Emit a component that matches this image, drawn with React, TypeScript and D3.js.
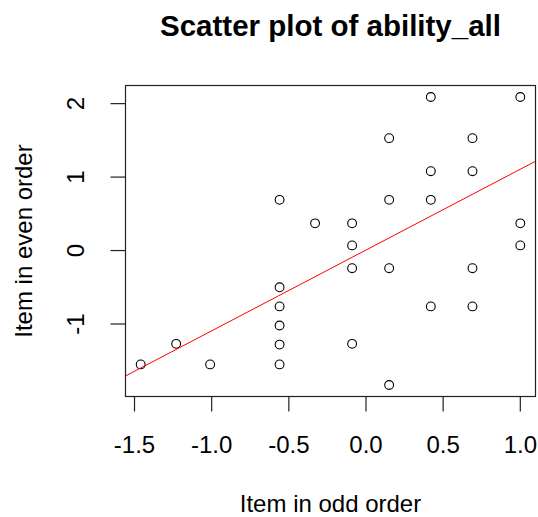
import React from 'react';
import * as d3 from 'd3';

// odd-order item score (x) and even-order item score (y)
const oddOrder = [
  -1.46, -1.23, -1.01,
  -0.56, -0.56, -0.56, -0.56, -0.56, -0.56,
  -0.33,
  -0.09, -0.09, -0.09, -0.09,
  0.15, 0.15, 0.15, 0.15,
  0.42, 0.42, 0.42, 0.42,
  0.69, 0.69, 0.69, 0.69,
  1.0, 1.0, 1.0,
];
const evenOrder = [
  -1.55, -1.27, -1.55,
  0.69, -0.5, -0.76, -1.02, -1.28, -1.55,
  0.37,
  0.37, 0.07, -0.24, -1.27,
  1.53, 0.69, -0.24, -1.83,
  2.09, 1.08, 0.69, -0.76,
  1.53, 1.08, -0.24, -0.76,
  2.09, 0.37, 0.07,
];
const xTicks = [-1.5, -1.0, -0.5, 0.0, 0.5, 1.0];
const yTicks = [-1, 0, 1, 2];
// fitted line (abline)
const fitIntercept = 0.007;
const fitSlope = 1.1;

const W = 538;
const H = 517;
const box = { left: 125.5, right: 535.5, top: 85.5, bottom: 396.5 };
const font = '"Liberation Sans", Arial, sans-serif';

// R-style 4% axis padding
const pad = (ext: [number, number]) => {
  const d = (ext[1] - ext[0]) * 0.04;
  return [ext[0] - d, ext[1] + d];
};

export default function App() {
  const xDom = pad(d3.extent(oddOrder) as [number, number]);
  const yDom = pad(d3.extent(evenOrder) as [number, number]);
  const x = d3.scaleLinear().domain(xDom).range([box.left, box.right]);
  const y = d3.scaleLinear().domain(yDom).range([box.bottom, box.top]);
  const pts = oddOrder.map((v, i) => [v, evenOrder[i]]);

  const line = d3.line<number>()
    .x((v) => x(v))
    .y((v) => y(fitIntercept + fitSlope * v));

  const cx = (box.left + box.right) / 2;
  const cy = (box.top + box.bottom) / 2;

  return (
    <svg width={W} height={H} style={{ position: 'absolute', left: 0, top: 0, background: '#fff' }}>
      <defs>
        <clipPath id="plotArea">
          <rect x={box.left} y={box.top} width={box.right - box.left} height={box.bottom - box.top} />
        </clipPath>
      </defs>
      <text x={cx} y={36} textAnchor="middle" fontFamily={font} fontWeight="bold" fontSize={29.5}>
        Scatter plot of ability_all
      </text>

      {pts.map(([a, b], i) => (
        <circle key={i} cx={x(a)} cy={y(b)} r={4.4} fill="none" stroke="#000" strokeWidth={1.1} />
      ))}

      <path d={line(xDom) || ''} fill="none" stroke="#ff0000" strokeWidth={1} clipPath="url(#plotArea)" />

      <rect x={box.left} y={box.top} width={box.right - box.left} height={box.bottom - box.top}
        fill="none" stroke="#222" strokeWidth={1.2} />

      {/* x axis */}
      {xTicks.map((t) => (
        <g key={t}>
          <line x1={x(t)} x2={x(t)} y1={box.bottom} y2={box.bottom + 15} stroke="#222" strokeWidth={1.2} />
          <text x={x(t)} y={453} textAnchor="middle" fontFamily={font} fontSize={24} fill="#000">
            {t.toFixed(1)}
          </text>
        </g>
      ))}
      <text x={cx} y={512} textAnchor="middle" fontFamily={font} fontSize={24}>Item in odd order</text>

      {/* y axis */}
      {yTicks.map((t) => (
        <g key={t}>
          <line x1={box.left - 15} x2={box.left} y1={y(t)} y2={y(t)} stroke="#222" strokeWidth={1.2} />
          <text transform={`translate(83.5,${y(t)}) rotate(-90)`} textAnchor="middle"
            fontFamily={font} fontSize={24}>
            {String(t)}
          </text>
        </g>
      ))}
      <text transform={`translate(31.5,${cy}) rotate(-90)`} textAnchor="middle" fontFamily={font} fontSize={24}>
        Item in even order
      </text>
    </svg>
  );
}
